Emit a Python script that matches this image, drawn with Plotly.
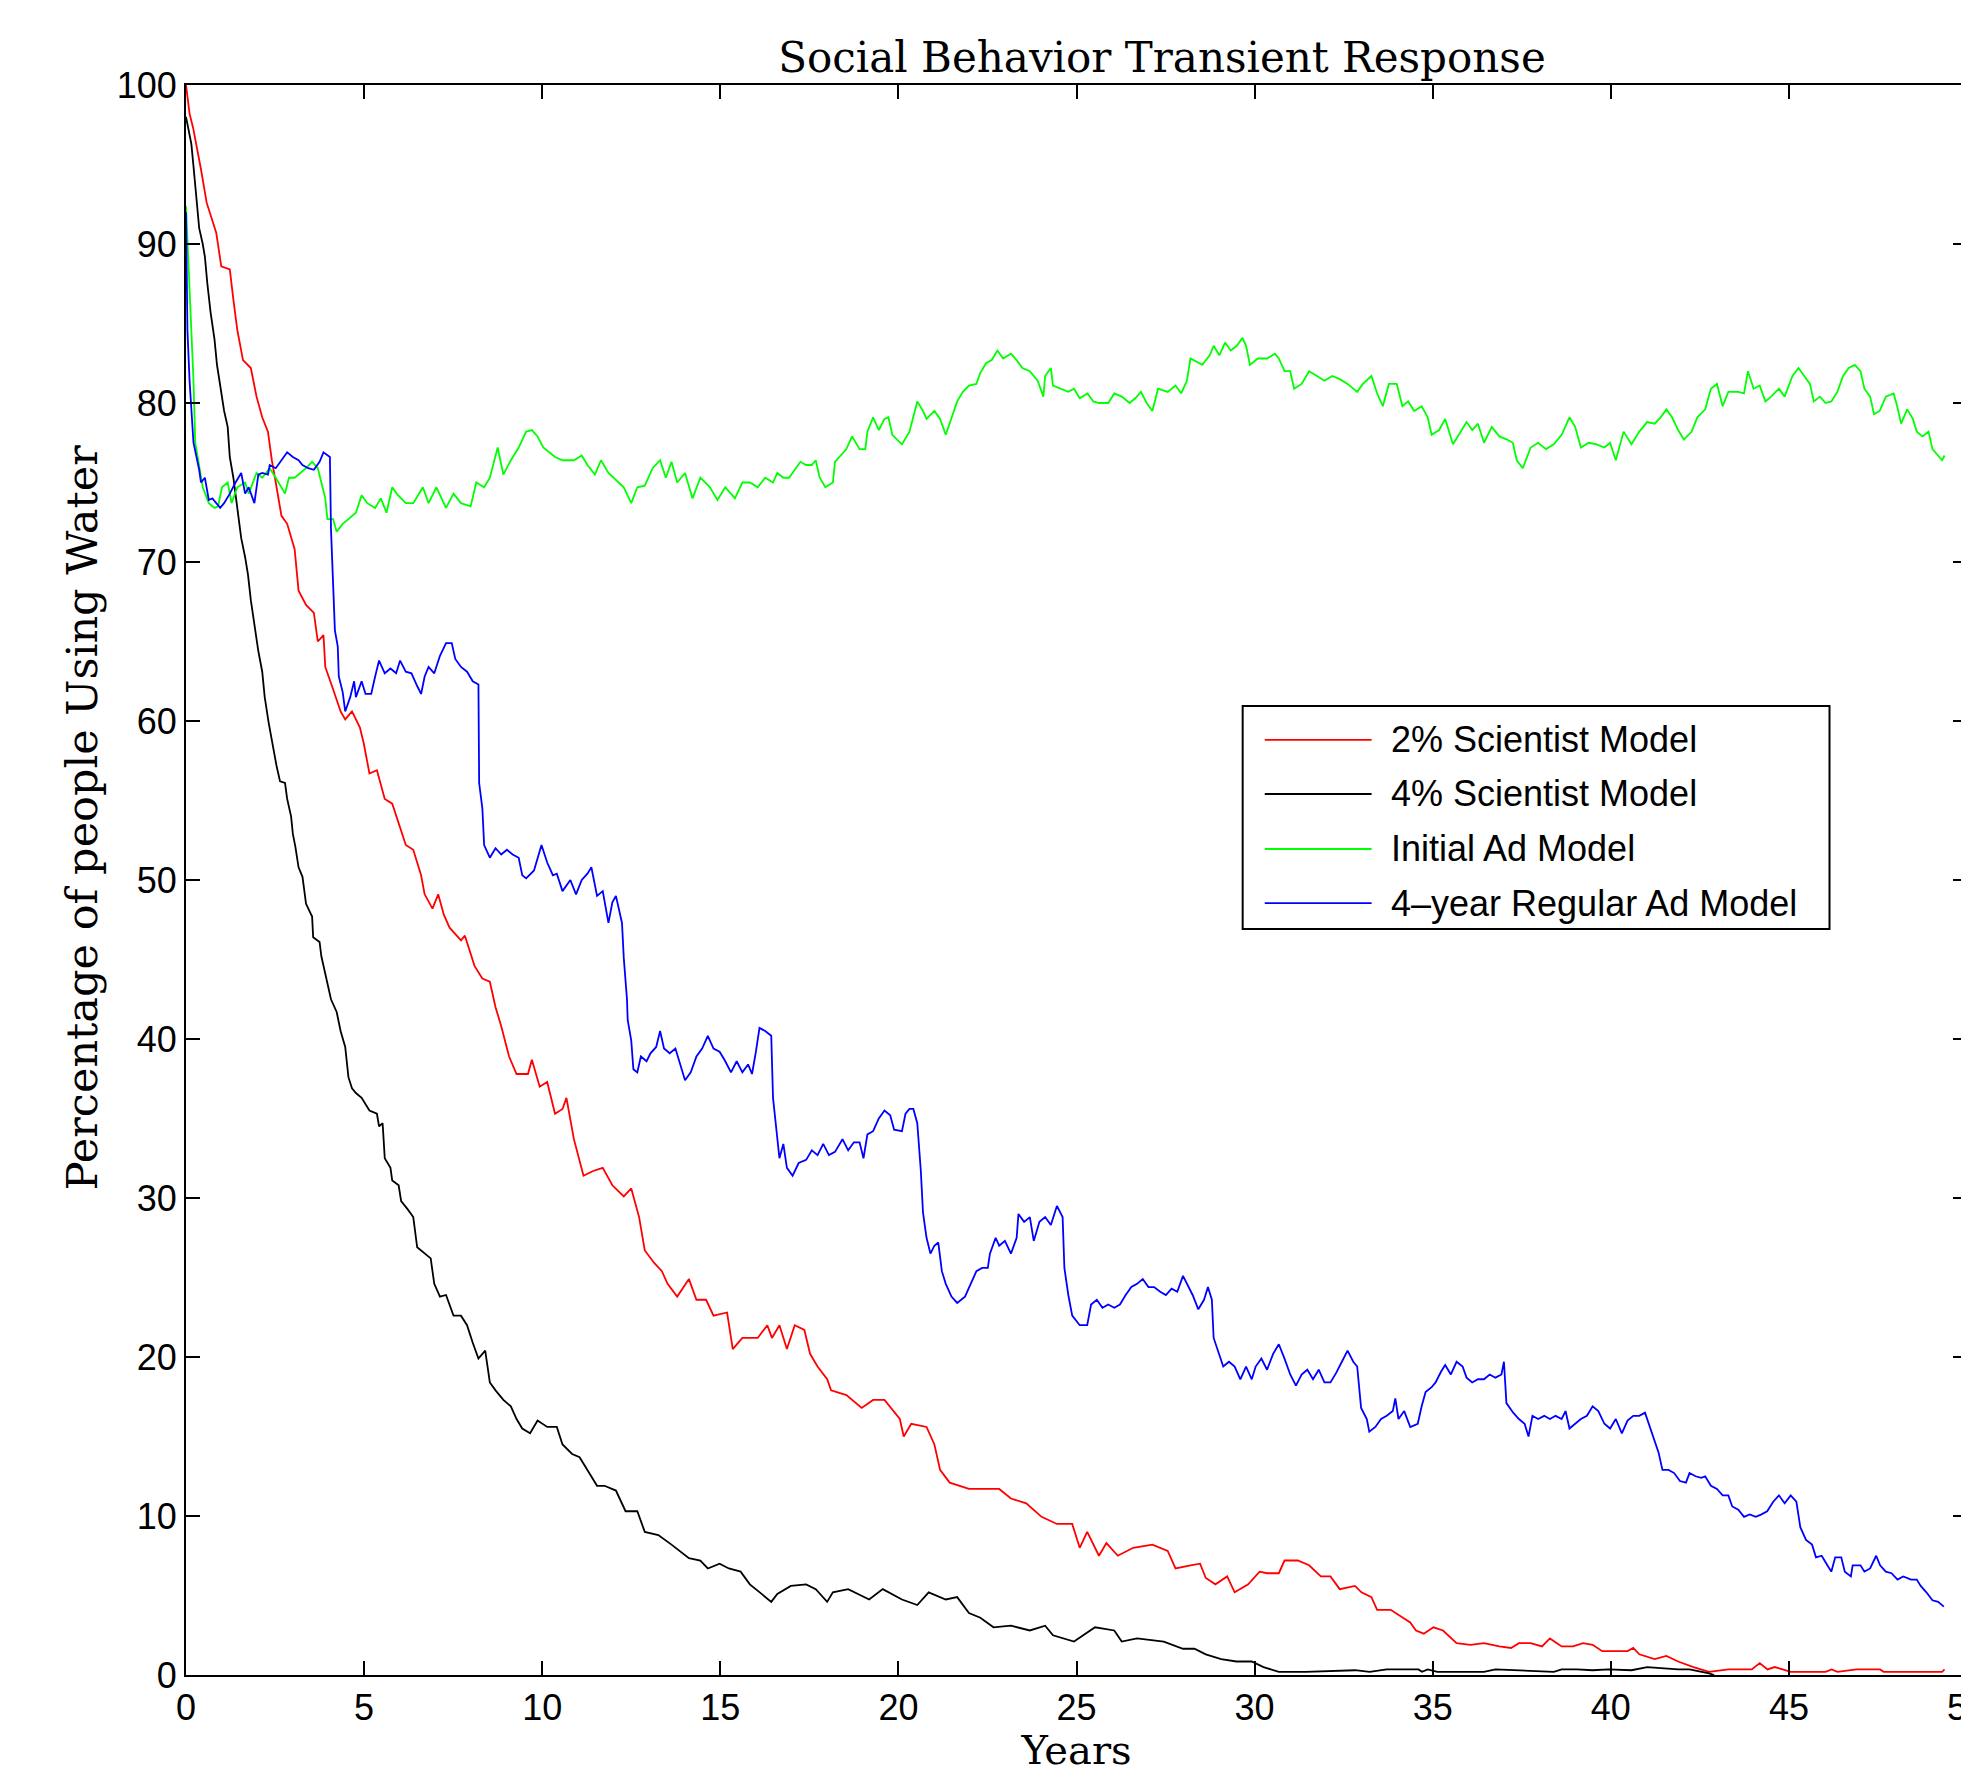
import plotly.graph_objects as go

# ---------------- data ----------------
series_names = ["2% Scientist Model", "4% Scientist Model", "Initial Ad Model", "4\u2013year Regular Ad Model"]
series_colors = ["#ff0000", "#000000", "#00ff00", "#0000ff"]

red_t = [0, 0.1, 0.2, 0.31, 0.42, 0.58, 0.69, 0.85, 0.99, 1.23, 1.33, 1.44, 1.6, 1.82, 1.98, 2.14, 2.3, 2.41, 2.52,
         2.68, 2.84, 3.05, 3.16, 3.37, 3.59, 3.7, 3.86, 3.91, 4.13, 4.34, 4.47, 4.66, 4.88, 4.99, 5.15, 5.36, 5.58,
         5.79, 6.01, 6.17, 6.38, 6.6, 6.7, 6.92, 7.08, 7.24, 7.4, 7.72, 7.83, 8.1, 8.32, 8.53, 8.69, 8.85, 9.07, 9.28,
         9.6, 9.71, 9.93, 10.14, 10.36, 10.57, 10.68, 10.89, 11.16, 11.43, 11.7, 11.97, 12.29, 12.5, 12.72, 12.88,
         13.15, 13.36, 13.52, 13.79, 14.12, 14.33, 14.6, 14.81, 15.19, 15.35, 15.62, 16.05, 16.32, 16.45, 16.66,
         16.87, 17.09, 17.36, 17.52, 17.73, 18.0, 18.11, 18.54, 18.97, 19.29, 19.61, 20.04, 20.15, 20.36, 20.79,
         21.01, 21.17, 21.44, 21.98, 22.4, 22.83, 23.16, 23.59, 24.02, 24.45, 24.88, 25.09, 25.3, 25.63, 25.84, 26.16,
         26.59, 27.13, 27.56, 27.78, 28.2, 28.47, 28.63, 28.9, 29.23, 29.44, 29.82, 30.14, 30.35, 30.68, 30.84, 31.21,
         31.53, 31.86, 32.13, 32.39, 32.82, 33.0, 33.28, 33.44, 33.82, 34.15, 34.37, 34.53, 34.75, 35.02, 35.29,
         35.67, 36.06, 36.44, 36.87, 37.2, 37.42, 37.75, 38.07, 38.29, 38.62, 38.94, 39.22, 39.49, 39.76, 40.47,
         40.63, 40.8, 41.23, 41.56, 41.89, 42.32, 42.76, 43.3, 43.96, 44.18, 44.4, 44.6, 45.05, 46.03, 46.2, 46.36,
         46.9, 47.56, 47.66, 49.3, 49.37]
red_v = [100, 98.2, 97.3, 96.1, 94.7, 92.6, 91.8, 90.7, 88.6, 88.4, 86.5, 84.6, 82.7, 82.2, 80.4, 79.1, 78.2, 76.4,
         75.0, 72.9, 72.4, 70.8, 68.2, 67.3, 66.8, 65.0, 65.4, 63.4, 62.0, 60.6, 60.1, 60.6, 59.6, 58.6, 56.7, 56.9,
         55.1, 54.8, 53.3, 52.2, 51.9, 50.3, 49.1, 48.2, 49.1, 47.8, 47.0, 46.2, 46.5, 44.6, 43.8, 43.6, 42.0, 40.8,
         38.9, 37.8, 37.8, 38.7, 37.0, 37.3, 35.3, 35.6, 36.3, 33.7, 31.4, 31.7, 31.9, 30.8, 30.1, 30.6, 28.8, 26.7,
         25.9, 25.4, 24.6, 23.8, 24.9, 23.6, 23.6, 22.6, 22.8, 20.5, 21.2, 21.2, 22.0, 21.2, 22.0, 20.5, 22.0, 21.7,
         20.2, 19.4, 18.6, 17.9, 17.6, 16.8, 17.3, 17.3, 16.1, 15.0, 15.8, 15.6, 14.5, 12.9, 12.1, 11.7, 11.7, 11.7,
         11.1, 10.8, 9.95, 9.5, 9.5, 8.0, 9.0, 7.5, 8.3, 7.5, 8.0, 8.2, 7.8, 6.7, 6.9, 7.0, 6.1, 5.7, 6.2, 5.2, 5.7,
         6.5, 6.4, 6.4, 7.2, 7.2, 6.9, 6.2, 6.2, 5.4, 5.6, 5.2, 4.9, 4.1, 4.1, 3.6, 3.3, 2.8, 2.6, 3.0, 2.8, 2.0, 1.9,
         2.0, 1.8, 1.7, 2.0, 2.0, 1.8, 2.3, 1.8, 1.8, 2.0, 1.9, 1.5, 1.5, 1.7, 1.3, 1.0, 1.2, 0.85, 0.5, 0.2, 0.35,
         0.35, 0.75, 0.35, 0.5, 0.2, 0.2, 0.35, 0.2, 0.35, 0.35, 0.2, 0.2, 0.35]

black_t = [0, 0.07, 0.15, 0.21, 0.28, 0.37, 0.47, 0.53, 0.6, 0.69, 0.8, 0.87, 0.96, 1.07, 1.17, 1.23, 1.33, 1.42,
           1.47, 1.55, 1.66, 1.74, 1.82, 1.92, 2.03, 2.14, 2.21, 2.32, 2.43, 2.54, 2.64, 2.78, 2.84, 2.95, 3.0, 3.07,
           3.16, 3.27, 3.37, 3.54, 3.57, 3.75, 3.8, 3.89, 4.02, 4.07, 4.23, 4.34, 4.47, 4.56, 4.66, 4.77, 4.93, 5.15,
           5.36, 5.42, 5.52, 5.58, 5.74, 5.79, 5.97, 6.04, 6.22, 6.38, 6.49, 6.7, 6.87, 6.97, 7.13, 7.3, 7.51, 7.72,
           7.89, 8.05, 8.21, 8.4, 8.53, 8.69, 8.91, 9.12, 9.28, 9.44, 9.66, 9.87, 10.14, 10.41, 10.57, 10.84, 11.05,
           11.32, 11.54, 11.75, 12.07, 12.34, 12.67, 12.88, 13.26, 13.63, 13.9, 14.12, 14.44, 14.65, 14.98, 15.24,
           15.57, 15.83, 16.16, 16.43, 16.6, 16.98, 17.41, 17.68, 18.0, 18.16, 18.59, 18.86, 19.18, 19.56, 20.1,
           20.53, 20.85, 21.33, 21.65, 21.98, 22.3, 22.67, 23.16, 23.69, 24.12, 24.34, 24.93, 25.52, 26.06, 26.27,
           26.7, 27.45, 27.99, 28.31, 28.63, 29.06, 29.49, 29.92, 30.25, 30.68, 31.43, 32.82, 33.23, 33.71, 34.6,
           34.7, 34.86, 35.13, 36.44, 36.76, 38.4, 38.62, 39.05, 39.49, 39.93, 40.58, 41.02, 41.89, 42.21, 42.76,
           42.9]
black_v = [98.0, 97.1, 96.3, 94.9, 93.0, 91.0, 90.0, 89.2, 87.5, 85.7, 84.0, 82.4, 81.1, 79.5, 78.5, 76.6, 75.3,
           73.7, 72.6, 71.5, 70.3, 69.2, 67.6, 66.0, 64.4, 63.1, 61.5, 59.9, 58.5, 57.2, 56.2, 56.1, 55.1, 54.0, 52.9,
           52.1, 50.8, 50.2, 48.5, 47.7, 46.4, 46.1, 45.2, 44.3, 43.1, 42.5, 41.7, 40.5, 39.5, 37.6, 36.9, 36.6, 36.3,
           35.5, 35.3, 34.5, 34.7, 32.5, 31.9, 31.1, 30.8, 29.8, 29.3, 28.8, 26.9, 26.5, 26.2, 24.6, 23.8, 23.9, 22.6,
           22.6, 22.0, 20.9, 19.9, 20.4, 18.4, 17.9, 17.3, 16.9, 16.1, 15.5, 15.2, 16.0, 15.6, 15.6, 14.5, 13.9, 13.7,
           12.7, 11.9, 11.9, 11.6, 10.3, 10.3, 9.0, 8.8, 8.2, 7.7, 7.35, 7.2, 6.7, 7.0, 6.7, 6.5, 5.7, 5.1, 4.6, 5.1,
           5.6, 5.7, 5.4, 4.6, 5.2, 5.4, 5.1, 4.75, 5.4, 4.75, 4.4, 5.2, 4.75, 4.9, 3.9, 3.6, 3.0, 3.1, 2.8, 3.1, 2.5,
           2.1, 3.0, 2.8, 2.1, 2.3, 2.1, 1.65, 1.65, 1.3, 1.0, 0.85, 0.85, 0.5, 0.2, 0.2, 0.3, 0.2, 0.35, 0.35, 0.2,
           0.35, 0.2, 0.2, 0.35, 0.2, 0.35, 0.35, 0.3, 0.35, 0.3, 0.5, 0.35, 0.35, 0.1, 0.0]

green_t = [0, 0.21, 0.26, 0.37, 0.47, 0.64, 0.8, 0.9, 1.01, 1.17, 1.28, 1.44, 1.66, 1.76, 1.98, 2.14, 2.35, 2.52,
           2.68, 2.78, 2.89, 3.05, 3.21, 3.37, 3.54, 3.7, 3.8, 3.91, 3.97, 4.13, 4.23, 4.4, 4.56, 4.77, 4.93, 5.09,
           5.31, 5.47, 5.63, 5.79, 5.95, 6.17, 6.38, 6.65, 6.81, 7.03, 7.3, 7.51, 7.72, 7.99, 8.15, 8.37, 8.53, 8.64,
           8.75, 8.91, 9.12, 9.34, 9.55, 9.71, 9.87, 10.03, 10.36, 10.57, 10.89, 11.11, 11.27, 11.48, 11.65, 11.86,
           12.13, 12.29, 12.5, 12.67, 12.88, 13.1, 13.31, 13.47, 13.63, 13.79, 14.01, 14.22, 14.44, 14.71, 14.92,
           15.14, 15.41, 15.62, 15.83, 16.05, 16.26, 16.48, 16.6, 16.77, 16.93, 17.03, 17.25, 17.41, 17.57, 17.68,
           17.79, 17.95, 18.16, 18.22, 18.54, 18.7, 18.91, 19.07, 19.13, 19.29, 19.45, 19.61, 19.72, 19.83, 20.1,
           20.31, 20.53, 20.69, 20.79, 21.01, 21.17, 21.33, 21.49, 21.65, 21.81, 21.98, 22.19, 22.3, 22.46, 22.62,
           22.78, 22.94, 23.16, 23.32, 23.48, 23.69, 23.91, 24.07, 24.12, 24.28, 24.34, 24.55, 24.77, 24.93, 25.09,
           25.31, 25.47, 25.63, 25.89, 26.06, 26.27, 26.49, 26.65, 26.81, 26.97, 27.13, 27.29, 27.56, 27.78, 27.94,
           28.1, 28.2, 28.53, 28.74, 28.85, 29.01, 29.17, 29.33, 29.5, 29.66, 29.76, 29.87, 30.09, 30.35, 30.57,
           30.68, 30.84, 31.0, 31.11, 31.32, 31.53, 31.75, 31.96, 32.18, 32.39, 32.61, 32.88, 33.04, 33.28, 33.44,
           33.6, 33.77, 33.99, 34.15, 34.31, 34.48, 34.69, 34.86, 34.97, 35.18, 35.35, 35.57, 35.78, 35.95, 36.11,
           36.27, 36.44, 36.66, 36.87, 37.09, 37.25, 37.36, 37.53, 37.75, 37.96, 38.18, 38.4, 38.62, 38.84, 39.0,
           39.16, 39.38, 39.6, 39.82, 39.98, 40.14, 40.36, 40.58, 40.8, 41.02, 41.23, 41.4, 41.56, 41.72, 41.89,
           42.05, 42.27, 42.43, 42.65, 42.81, 42.98, 43.14, 43.3, 43.58, 43.74, 43.85, 44.01, 44.18, 44.34, 44.5,
           44.72, 44.88, 45.1, 45.27, 45.43, 45.59, 45.7, 45.87, 46.03, 46.19, 46.36, 46.52, 46.68, 46.85, 47.01,
           47.12, 47.28, 47.39, 47.55, 47.72, 47.94, 48.04, 48.15, 48.32, 48.48, 48.59, 48.75, 48.92, 49.03, 49.19,
           49.3, 49.37]
green_v = [92.4, 81.4, 77.5, 75.9, 74.7, 73.7, 73.4, 73.5, 74.7, 75.0, 73.7, 74.7, 75.0, 74.3, 75.6, 75.3, 75.9,
           75.3, 74.7, 74.3, 75.3, 75.3, 75.6, 75.9, 76.3, 75.9, 75.0, 74.0, 72.7, 72.7, 71.9, 72.4, 72.7, 73.1, 74.2,
           73.7, 73.4, 74.0, 73.1, 74.7, 74.2, 73.7, 73.7, 74.7, 73.7, 74.7, 73.4, 74.3, 73.7, 73.5, 75.0, 74.7, 75.3,
           76.3, 77.2, 75.5, 76.4, 77.2, 78.2, 78.3, 77.9, 77.2, 76.6, 76.4, 76.4, 76.7, 76.1, 75.5, 76.4, 75.6, 75.0,
           74.7, 73.7, 74.7, 74.8, 75.9, 76.4, 75.3, 76.3, 75.0, 75.6, 74.0, 75.3, 74.7, 73.9, 74.7, 74.0, 75.0, 75.0,
           74.7, 75.3, 75.0, 75.6, 75.3, 75.3, 75.6, 76.3, 76.1, 76.1, 76.4, 75.3, 74.7, 75.0, 76.3, 77.1, 77.9, 77.1,
           77.1, 78.2, 79.1, 78.3, 79.0, 79.1, 78.0, 77.4, 78.2, 80.1, 79.5, 79.0, 79.5, 79.0, 78.0, 79.1, 80.1, 80.7,
           81.1, 81.2, 81.9, 82.5, 82.7, 83.3, 82.8, 83.1, 82.7, 82.2, 82.0, 81.4, 80.4, 81.7, 82.2, 81.1, 80.9, 80.7,
           80.9, 80.3, 80.6, 80.1, 80.0, 80.0, 80.6, 80.4, 80.0, 80.3, 80.7, 80.0, 79.5, 80.9, 80.7, 81.1, 80.6, 81.4,
           82.8, 82.4, 83.0, 83.6, 83.0, 83.8, 83.3, 83.6, 84.1, 83.6, 82.4, 82.8, 82.8, 83.1, 82.8, 82.0, 82.0, 80.9,
           81.2, 82.0, 81.7, 81.4, 81.7, 81.5, 81.2, 80.7, 81.2, 81.7, 80.6, 79.8, 81.2, 81.2, 79.8, 80.1, 79.5, 79.8,
           79.1, 78.0, 78.3, 79.0, 77.4, 78.2, 78.8, 78.3, 78.7, 77.5, 78.5, 77.9, 77.7, 77.5, 76.4, 75.9, 77.2, 77.5,
           77.1, 77.4, 78.0, 79.1, 78.5, 77.2, 77.5, 77.4, 77.2, 77.5, 76.4, 78.2, 77.4, 78.2, 78.8, 78.7, 79.1, 79.6,
           79.1, 78.3, 77.7, 78.2, 79.1, 79.6, 80.9, 81.2, 79.8, 80.7, 80.7, 80.6, 82.0, 80.9, 81.1, 80.1, 80.4, 80.9,
           80.4, 81.7, 82.2, 81.7, 81.2, 80.1, 80.4, 80.0, 80.1, 80.7, 81.7, 82.2, 82.4, 82.0, 80.9, 80.4, 79.3, 79.5,
           80.4, 80.6, 79.8, 78.7, 79.6, 79.0, 78.2, 77.9, 78.2, 77.1, 76.7, 76.4, 76.7]

blue_t = [0, 0.04, 0.1, 0.21, 0.37, 0.42, 0.53, 0.64, 0.74, 0.85, 0.96, 1.07, 1.23, 1.39, 1.55, 1.66, 1.76, 1.92,
          2.03, 2.14, 2.3, 2.35, 2.52, 2.68, 2.84, 3.0, 3.16, 3.27, 3.43, 3.59, 3.75, 3.86, 3.97, 4.04, 4.07, 4.13,
          4.18, 4.26, 4.29, 4.4, 4.47, 4.61, 4.72, 4.77, 4.93, 5.04, 5.2, 5.31, 5.42, 5.58, 5.74, 5.9, 6.01, 6.17,
          6.33, 6.49, 6.6, 6.7, 6.81, 6.97, 7.13, 7.3, 7.46, 7.56, 7.72, 7.89, 8.05, 8.21, 8.23, 8.32, 8.37, 8.53,
          8.69, 8.85, 9.01, 9.17, 9.34, 9.44, 9.55, 9.77, 9.98, 10.14, 10.3, 10.41, 10.57, 10.79, 10.95, 11.11,
          11.27, 11.38, 11.54, 11.7, 11.86, 11.97, 12.07, 12.24, 12.29, 12.38, 12.4, 12.5, 12.56, 12.67, 12.77,
          12.93, 13.04, 13.2, 13.31, 13.42, 13.58, 13.74, 13.85, 14.01, 14.17, 14.33, 14.49, 14.65, 14.81, 14.98,
          15.14, 15.3, 15.46, 15.62, 15.78, 15.89, 16.0, 16.1, 16.26, 16.43, 16.48, 16.6, 16.66, 16.77, 16.87,
          17.03, 17.2, 17.41, 17.57, 17.73, 17.89, 18.05, 18.22, 18.43, 18.59, 18.75, 18.91, 19.02, 19.13, 19.29,
          19.45, 19.61, 19.77, 19.88, 20.1, 20.2, 20.31, 20.42, 20.53, 20.63, 20.69, 20.79, 20.9, 21.01, 21.12,
          21.22, 21.33, 21.49, 21.65, 21.87, 22.03, 22.19, 22.35, 22.51, 22.57, 22.73, 22.83, 22.99, 23.16, 23.32,
          23.37, 23.53, 23.69, 23.8, 23.96, 24.12, 24.28, 24.45, 24.61, 24.66, 24.77, 24.88, 25.09, 25.3, 25.41,
          25.57, 25.73, 25.89, 26.06, 26.22, 26.38, 26.54, 26.7, 26.86, 27.02, 27.18, 27.35, 27.51, 27.67, 27.83,
          27.99, 28.1, 28.26, 28.42, 28.58, 28.69, 28.8, 28.85, 29.01, 29.12, 29.28, 29.44, 29.6, 29.76, 29.92,
          30.03, 30.19, 30.35, 30.52, 30.68, 30.84, 31.0, 31.16, 31.32, 31.48, 31.64, 31.8, 31.96, 32.13, 32.29,
          32.45, 32.61, 32.77, 32.88, 32.99, 33.15, 33.22, 33.39, 33.55, 33.71, 33.88, 33.95, 34.04, 34.2, 34.37,
          34.58, 34.69, 34.8, 34.97, 35.08, 35.24, 35.35, 35.51, 35.67, 35.84, 35.95, 36.11, 36.27, 36.44, 36.6,
          36.76, 36.93, 37.0, 37.07, 37.26, 37.42, 37.58, 37.69, 37.8, 37.96, 38.13, 38.29, 38.45, 38.62, 38.73,
          38.84, 39.0, 39.16, 39.33, 39.49, 39.65, 39.82, 39.98, 40.14, 40.31, 40.47, 40.63, 40.8, 40.96, 41.07,
          41.23, 41.34, 41.45, 41.62, 41.78, 41.94, 42.11, 42.21, 42.38, 42.54, 42.65, 42.81, 42.98, 43.14, 43.3,
          43.41, 43.58, 43.74, 43.9, 44.07, 44.23, 44.39, 44.56, 44.72, 44.88, 45.05, 45.21, 45.32, 45.48, 45.65,
          45.76, 45.92, 46.08, 46.19, 46.3, 46.47, 46.57, 46.74, 46.79, 47.01, 47.12, 47.28, 47.45, 47.56, 47.72,
          47.88, 48.05, 48.21, 48.43, 48.59, 48.7, 48.86, 49.03, 49.19, 49.35]
blue_v = [92.0, 84.6, 81.4, 77.5, 75.8, 75.0, 75.3, 73.9, 74.0, 73.7, 73.4, 73.7, 74.3, 75.0, 75.6, 74.3, 74.7, 73.7,
          75.5, 75.6, 75.5, 76.1, 75.9, 76.4, 76.9, 76.6, 76.4, 76.1, 75.9, 75.8, 76.3, 76.9, 76.7, 76.6, 72.1, 68.2,
          65.7, 64.7, 62.8, 61.8, 60.6, 61.5, 62.5, 61.5, 62.5, 61.7, 61.7, 62.8, 63.8, 63.0, 63.3, 63.0, 63.8, 63.1,
          63.0, 62.2, 61.7, 62.8, 63.4, 63.0, 64.1, 64.9, 64.9, 63.9, 63.4, 63.1, 62.5, 62.3, 56.1, 54.5, 52.2, 51.4,
          52.0, 51.6, 51.9, 51.6, 51.4, 50.3, 50.1, 50.6, 52.2, 51.1, 50.3, 50.4, 49.3, 50.0, 49.1, 50.0, 50.4, 50.8,
          49.0, 49.3, 47.3, 48.6, 49.0, 47.3, 45.1, 42.5, 41.2, 39.9, 38.1, 37.9, 38.9, 38.6, 39.1, 39.5, 40.5, 39.4,
          39.1, 39.4, 38.6, 37.4, 37.9, 38.9, 39.4, 40.2, 39.4, 39.2, 38.6, 37.9, 38.6, 37.9, 38.4, 37.8, 39.2, 40.7,
          40.5, 40.2, 36.3, 33.7, 32.5, 33.4, 31.9, 31.4, 32.2, 32.4, 33.0, 32.7, 33.4, 32.7, 32.9, 33.7, 33.0, 33.5,
          33.5, 32.5, 34.0, 34.2, 35.0, 35.5, 35.2, 34.3, 34.2, 35.3, 35.6, 35.6, 34.7, 31.7, 29.1, 27.5, 26.5, 27.0,
          27.2, 25.4, 24.6, 23.8, 23.4, 23.8, 24.6, 25.4, 25.6, 25.6, 26.5, 27.5, 27.0, 27.3, 26.5, 27.5, 29.0, 28.5,
          28.8, 27.3, 28.5, 28.8, 28.3, 29.5, 28.8, 25.6, 23.9, 22.6, 22.0, 22.0, 23.3, 23.6, 23.1, 23.3, 23.1, 23.3,
          23.9, 24.4, 24.6, 24.9, 24.4, 24.4, 24.1, 23.9, 24.3, 24.1, 25.1, 24.6, 23.9, 23.0, 23.6, 24.4, 23.6, 21.2,
          20.2, 19.4, 19.7, 19.4, 18.6, 19.4, 18.6, 19.4, 19.9, 19.2, 20.2, 20.8, 19.9, 18.9, 18.2, 18.9, 19.2, 18.6,
          19.2, 18.4, 18.4, 19.0, 19.7, 20.4, 19.7, 19.4, 16.8, 16.1, 15.3, 15.6, 16.1, 16.3, 16.6, 17.4, 16.1, 16.6,
          15.6, 15.8, 16.9, 17.8, 18.1, 18.4, 19.1, 19.5, 18.9, 19.7, 19.4, 18.7, 18.4, 18.6, 18.6, 18.9, 18.7, 18.9,
          19.7, 17.1, 16.5, 16.1, 15.8, 15.0, 16.3, 16.1, 16.3, 16.1, 16.3, 16.1, 16.6, 15.5, 15.8, 16.1, 16.3, 16.9,
          16.6, 15.8, 15.5, 16.1, 15.2, 16.0, 16.3, 16.3, 16.5, 15.8, 14.8, 14.0, 12.9, 12.9, 12.7, 12.2, 12.1, 12.7,
          12.5, 12.4, 12.5, 11.9, 11.7, 11.3, 11.3, 10.6, 10.4, 9.95, 10.1, 9.95, 10.1, 10.3, 10.9, 11.3, 10.8, 11.3,
          10.9, 9.3, 8.5, 8.2, 7.4, 7.5, 6.9, 6.5, 7.4, 7.4, 6.5, 6.2, 6.9, 6.9, 6.5, 6.7, 7.5, 6.9, 6.5, 6.4, 6.0,
          6.2, 6.0, 6.0, 5.6, 5.2, 4.7, 4.6, 4.3]

x_ticks = [0, 5, 10, 15, 20, 25, 30, 35, 40, 45, 50]
y_ticks = [0, 10, 20, 30, 40, 50, 60, 70, 80, 90, 100]

title_text = "Social Behavior Transient Response"
x_title = "Years"
y_title = "Percentage of people Using Water"

# ---------------- figure ----------------
series_t = [red_t, black_t, green_t, blue_t]
series_v = [red_v, black_v, green_v, blue_v]

fig = go.Figure()
for name, col, t, v in zip(series_names, series_colors, series_t, series_v):
    fig.add_trace(go.Scatter(x=t, y=v, mode="lines", name=name,
                             line=dict(color=col, width=1.8), showlegend=False))

# empty helper trace so the right-hand tick axis is drawn
fig.add_trace(go.Scatter(x=[None], y=[None], yaxis="y2", showlegend=False, hoverinfo="skip"))

serif = "DejaVu Serif"
sans = "Liberation Sans, Arial, sans-serif"

axis_common = dict(ticks="inside", ticklen=14, tickwidth=1.5, tickcolor="black",
                   showgrid=False, zeroline=False, linecolor="black", linewidth=2,
                   tickfont=dict(family=sans, size=36, color="black"))

W, H = 1961, 1765  # page body adds an 8px margin
fig.update_layout(
    width=W, height=H,
    margin=dict(l=178, r=1.5, t=77, b=98, autoexpand=False),
    paper_bgcolor="white", plot_bgcolor="white",
    title=dict(text=title_text, font=dict(family=serif, size=42, color="black"),
               x=1154 / W, xanchor="center", y=1 - 49.5 / H, yanchor="middle"),
    xaxis=dict(range=[0, 50], tickvals=x_ticks, showline=True, mirror="ticks",
               ticklabeloverflow="allow", ticklabelstandoff=0,
               title=dict(text=x_title, font=dict(family=serif, size=40, color="black"), standoff=36),
               **axis_common),
    yaxis=dict(range=[0, 100], tickvals=y_ticks, showline=True, mirror=False,
               ticklabelstandoff=0, **axis_common),
    yaxis2=dict(range=[0, 100], tickvals=y_ticks, overlaying="y", side="right", anchor="x",
                ticks="inside", ticklen=14, tickwidth=1.5, tickcolor="black",
                showticklabels=False, showline=False, showgrid=False, zeroline=False),
    showlegend=False,
)

# y-axis label (placed off-centre, as in the reference)
fig.add_annotation(xref="paper", yref="paper", x=-0.0586, y=0.5393, xanchor="center", yanchor="middle",
                   text=y_title, textangle=-90, showarrow=False,
                   font=dict(family=serif, size=43, color="black"))

# legend drawn as a boxed key (long line samples, as in the reference)
box_x0, box_x1, box_y0, box_y1 = 0.5933, 0.9228, 0.4692, 0.6094
line_x0, line_x1, text_x = 0.6057, 0.6657, 0.6753
row_y = [0.5881, 0.5541, 0.5195, 0.4855]

fig.add_shape(type="rect", xref="paper", yref="paper", x0=box_x0, x1=box_x1, y0=box_y0, y1=box_y1,
              line=dict(color="black", width=2), fillcolor="white", layer="above")
for name, col, ry in zip(series_names, series_colors, row_y):
    fig.add_shape(type="line", xref="paper", yref="paper", x0=line_x0, x1=line_x1, y0=ry, y1=ry,
                  line=dict(color=col, width=1.8), layer="above")
    fig.add_annotation(xref="paper", yref="paper", x=text_x, y=ry, xanchor="left", yanchor="middle",
                       text=name, showarrow=False, font=dict(family=sans, size=36, color="black"))

fig.write_html("out.html")
